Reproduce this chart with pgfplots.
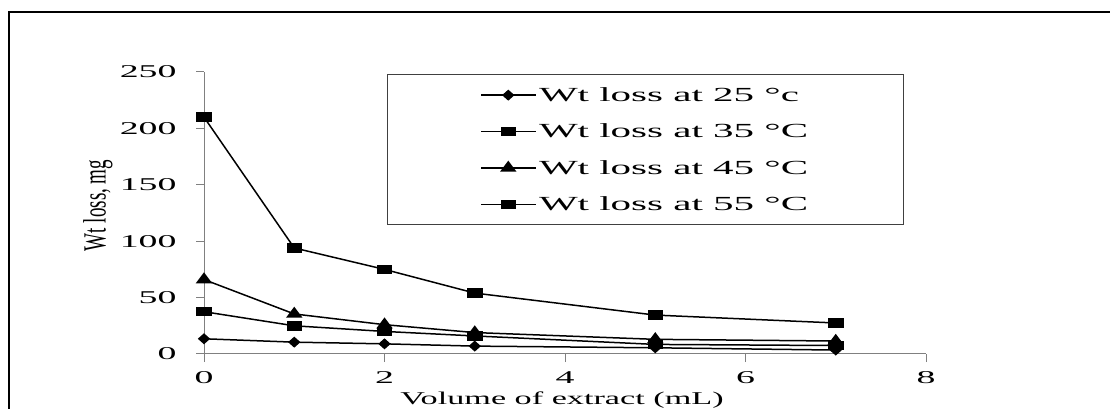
\documentclass[border=0pt]{standalone}
\usepackage{graphicx}
\usepackage{pgfplots}
\pgfplotsset{compat=1.18}
\usepackage{fontspec}
\setmainfont{Liberation Serif}[FakeStretch=1.9]
\newfontfamily\ylfont{Liberation Serif}
\newfontfamily\legfont{Liberation Serif}[FakeStretch=2.05]
\newfontfamily\tickfont{Liberation Serif}[FakeStretch=2.1]
\begin{document}
\begin{tikzpicture}
\useasboundingbox (0,0) rectangle (1110pt,409pt);
\draw[line width=2.5pt] (9pt,0) -- (9pt,397pt) -- (1110pt,397pt);
\begin{axis}[
  at={(204pt,55pt)}, anchor=south west,
  scale only axis, width=722pt, height=282pt,
  xmin=0, xmax=8, ymin=0, ymax=250,
  xtick={0,2,4,6,8}, ytick={0,50,100,150,200,250},
  axis x line*=bottom, axis y line*=left,
  axis line style={gray, line width=1pt},
  tick style={gray, line width=1pt},
  tick align=outside, major tick length=8pt,
  /pgf/number format/assume math mode=true,
  ticklabel style={font=\tickfont\fontsize{18}{20}\selectfont, black},
  yticklabel style={xshift=-16pt},
  xticklabel style={yshift=-6pt},
  xlabel={Volume of extract (mL)},
  xlabel style={font=\fontsize{18}{20}\selectfont, at={(rel axis cs:0.5,0)}, anchor=base, yshift=-50pt, xshift=-3pt},
  ylabel={\scalebox{1}[1.7]{\ylfont\fontsize{19}{20}\selectfont Wt loss, mg}},
  ylabel style={at={(rel axis cs:0,0.527)}, anchor=center, xshift=0pt, yshift=106pt},
  legend style={at={(rel axis cs:0.2535,0.993)}, anchor=north west, draw=darkgray, line width=1pt,
    font=\legfont\fontsize{20}{22}\selectfont, inner xsep=93pt, inner ysep=11pt, row sep=17pt},
  legend cell align=left,
  legend image code/.code={\draw[line width=1.5pt, mark repeat=2, mark phase=2] plot coordinates {(0pt,0pt) (27pt,0pt) (55pt,0pt)};},
  every axis plot/.append style={black, line width=1.5pt},
]
\addplot+[black, mark=diamond*, mark size=4.5pt, mark options={xscale=1.5, fill=black, solid}] coordinates {(0,13.5) (1,10.5) (2,9) (3,7) (5,5.5) (7,3.5)};
\addlegendentry{Wt loss at 25 °c}
\addplot+[black, mark=square*, mark size=4pt, mark options={xscale=1.75, fill=black, solid}] coordinates {(0,37.5) (1,25) (2,20) (3,16) (5,8.5) (7,7.5)};
\addlegendentry{Wt loss at 35 °C}
\addplot+[black, mark=triangle*, mark size=6pt, mark options={xscale=1.3, fill=black, solid}] coordinates {(0,66) (1,35.5) (2,26) (3,19) (5,13) (7,11.5)};
\addlegendentry{Wt loss at 45 °C}
\addplot+[black, mark=square*, mark size=4pt, mark options={xscale=1.75, fill=black, solid}] coordinates {(0,210) (1,94) (2,75) (3,54) (5,34.5) (7,27.5)};
\addlegendentry{Wt loss at 55 °C}
\end{axis}
\end{tikzpicture}
\end{document}
